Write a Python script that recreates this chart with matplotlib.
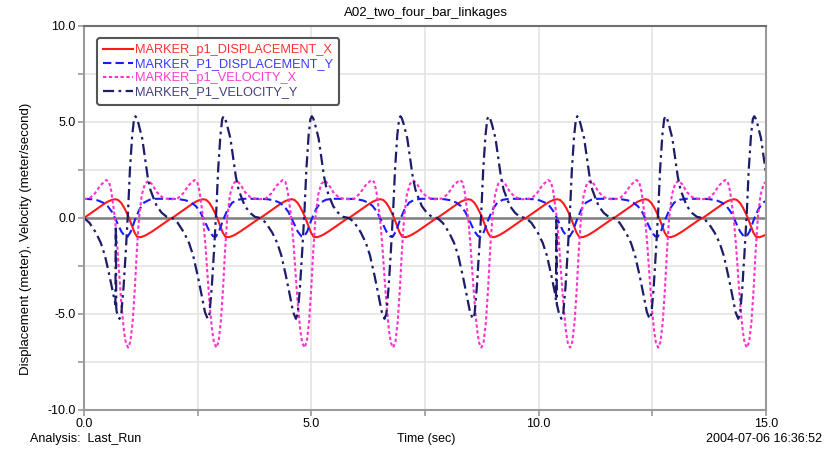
import numpy as np
import matplotlib
matplotlib.use('Agg')
import matplotlib.pyplot as plt

plt.rcParams['font.family'] = ['Liberation Sans', 'DejaVu Sans']

# start time of each crank cycle (s), read from the velocity_y peaks
cycle_start = [0.00, 1.94, 3.88, 5.83, 7.77, 9.72, 11.66, 13.61]

# one cycle of each curve, time within the cycle (s) and value
disp_x_u = [0.00, 0.15, 0.30, 0.42, 0.52, 0.61, 0.69, 0.75, 0.82, 0.88, 0.94, 0.99, 1.05, 1.11, 1.17, 1.25, 1.36, 1.50, 1.64, 1.78, 1.89]
disp_x_v = [0.00, 0.25, 0.50, 0.70, 0.85, 0.94, 0.98, 0.94, 0.78, 0.55, 0.27, 0.00, -0.38, -0.75, -0.98, -1.00, -0.90, -0.70, -0.47, -0.24, -0.06]

disp_y_u = [0.00, 0.15, 0.30, 0.42, 0.52, 0.62, 0.72, 0.82, 0.90, 0.96, 1.03, 1.12, 1.22, 1.32, 1.44, 1.58, 1.75]
disp_y_v = [1.00, 0.98, 0.92, 0.80, 0.62, 0.30, -0.20, -0.70, -0.95, -0.97, -0.70, -0.10, 0.45, 0.80, 0.95, 1.00, 1.00]

vel_x_u = [0.00, 0.12, 0.24, 0.36, 0.49, 0.55, 0.60, 0.64, 0.68, 0.73, 0.78, 0.83, 0.88, 0.92, 0.97, 1.02, 1.07, 1.12, 1.16, 1.21, 1.27, 1.34, 1.42, 1.50, 1.60, 1.72, 1.86]
vel_x_v = [0.98, 1.02, 1.28, 1.70, 1.98, 1.88, 1.40, 0.70, 0.00, -1.40, -3.10, -4.70, -5.90, -6.50, -6.75, -6.45, -5.40, -3.60, -1.80, 0.00, 1.20, 1.78, 1.95, 1.75, 1.35, 1.08, 0.98]

vel_y_u = [0.00, 0.12, 0.26, 0.37, 0.46, 0.56, 0.65, 0.72, 0.78, 0.82, 0.87, 0.92, 0.97, 1.01, 1.06, 1.10, 1.13, 1.16, 1.20, 1.28, 1.35, 1.40, 1.46, 1.53, 1.60, 1.71, 1.82]
vel_y_v = [0.00, -0.25, -0.76, -1.30, -1.95, -3.00, -4.05, -4.90, -5.25, -5.00, -3.60, -1.70, 0.40, 2.50, 4.30, 5.15, 5.30, 5.20, 4.90, 4.15, 3.00, 2.15, 1.47, 1.03, 0.62, 0.27, 0.06]

# solver spikes seen on velocity_y
spike_t = [0.69, 0.70, 0.71, 10.38, 10.39, 10.40]
spike_v = [-4.5, -0.4, -4.7, -4.3, -0.1, -4.5]


def build(u, v, extra_t=(), extra_v=()):
    t = np.concatenate([s + np.array(u) for s in cycle_start] + [np.array(extra_t)])
    y = np.concatenate([np.array(v) for s in cycle_start] + [np.array(extra_v)])
    order = np.argsort(t, kind='stable')
    return t[order], y[order]


fig = plt.figure(figsize=(8.24, 4.51), dpi=100)
ax = fig.add_axes([84/824, 1-410/451, 682/824, 384/451])

grey = '#9a9a9a'
ax.set_xlim(0, 15)
ax.set_ylim(-10, 10)
ax.set_xticks(np.arange(0, 15.1, 2.5))
ax.set_xticklabels(['0.0', '', '5.0', '', '10.0', '', '15.0'])
ax.set_yticks(np.arange(-10, 10.1, 2.5))
ax.set_yticklabels(['-10.0', '', '-5.0', '', '0.0', '', '5.0', '', '10.0'])
ax.grid(True, color='#e4e4e4', lw=1.2)
ax.set_axisbelow(True)
ax.tick_params(direction='out', length=4, width=1.2, color=grey, labelsize=9, pad=2)
for s in ax.spines.values():
    s.set_color(grey)
    s.set_linewidth(1.5)
ax.spines['top'].set_color('#707070')
ax.axhline(0, color='#808080', lw=1.8, zorder=1.5)

t, y = build(disp_x_u, disp_x_v)
ax.plot(t, y, color='#ff1a1a', lw=1.5, label='MARKER_p1_DISPLACEMENT_X')
t, y = build(disp_y_u, disp_y_v)
ax.plot(t, y, color='#1a1aff', lw=1.5, dashes=(4, 2), label='MARKER_P1_DISPLACEMENT_Y')
t, y = build(vel_x_u, vel_x_v)
ax.plot(t, y, color='#ff33cc', lw=1.5, dashes=(1.6, 1.2), label='MARKER_p1_VELOCITY_X')
t, y = build(vel_y_u, vel_y_v, spike_t, spike_v)
ax.plot(t, y, color='#1c1c6a', lw=1.6, dashes=(5, 2, 1.2, 2), label='MARKER_P1_VELOCITY_Y')

leg = ax.legend(loc='upper left', bbox_to_anchor=(13/682, 1-12/384), borderaxespad=0,
                fontsize=9.2, handlelength=2.3, handletextpad=0.15, labelspacing=0.15,
                borderpad=0.5, fancybox=True, framealpha=1, edgecolor='#555555')
leg.get_frame().set_linewidth(1.5)
text_colors = ['#ff3030', '#3a3aff', '#ff3ccc', '#40407e']
for txt, c in zip(leg.get_texts(), text_colors):
    txt.set_color(c)

fig.text(426/824, 1-13/451, 'A02_two_four_bar_linkages', ha='center', va='center', fontsize=9.5)
fig.text(26/824, 1-239/451, 'Displacement (meter), Velocity (meter/second)', rotation=90,
         ha='center', va='center', fontsize=9.5)
fig.text(30/824, 1-439/451, 'Analysis:  Last_Run', ha='left', va='center', fontsize=9)
fig.text(426/824, 1-439/451, 'Time (sec)', ha='center', va='center', fontsize=9)
fig.text(822/824, 1-439/451, '2004-07-06 16:36:52', ha='right', va='center', fontsize=9)

fig.savefig('out.png', dpi=100)
